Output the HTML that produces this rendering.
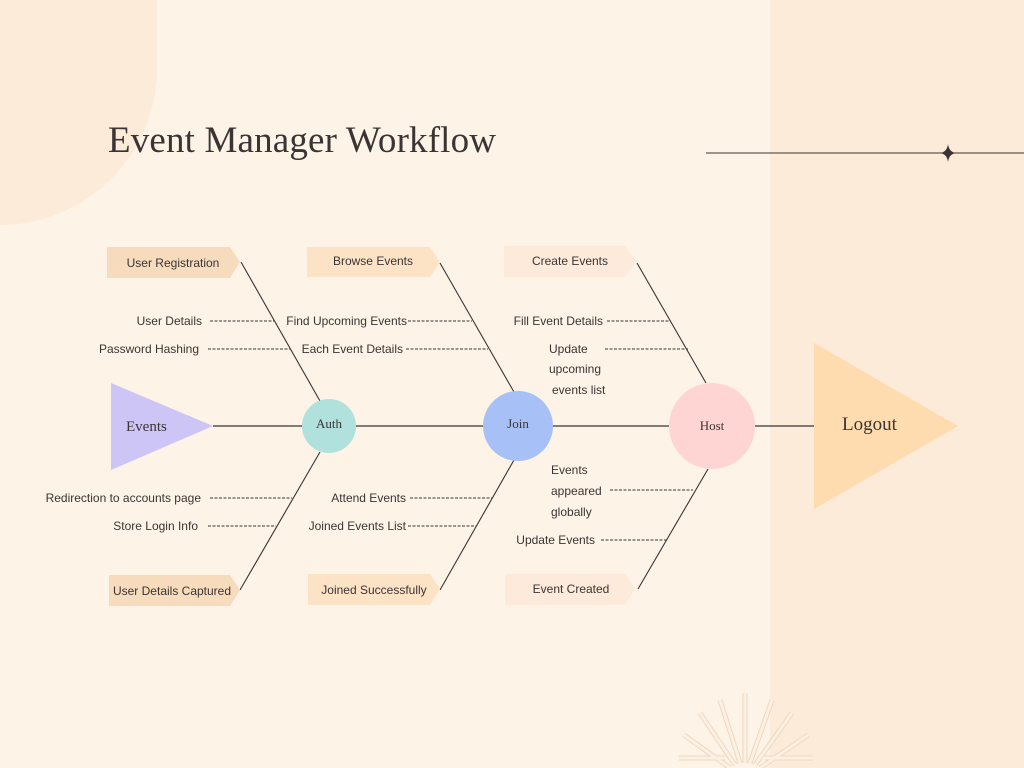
<!DOCTYPE html>
<html><head><meta charset="utf-8"><style>
html,body{margin:0;padding:0;background:#fdf3e6;}
svg{display:block}
text{font-family:"Liberation Sans",sans-serif;fill:#3a3434;}
.s{font-size:12px}
</style></head><body>
<svg width="1024" height="768" viewBox="0 0 1024 768" xmlns="http://www.w3.org/2000/svg">
<defs>
<g id="rays">
<line x1="745" y1="763" x2="745" y2="693"/>
<line x1="740" y1="763" x2="720" y2="700"/>
<line x1="750" y1="763" x2="772" y2="700"/>
<line x1="735" y1="765" x2="700" y2="713"/>
<line x1="755" y1="765" x2="792" y2="713"/>
<line x1="730" y1="768" x2="684" y2="735"/>
<line x1="760" y1="768" x2="808" y2="735"/>
<line x1="725" y1="758" x2="679" y2="758"/>
<line x1="765" y1="758" x2="813" y2="758"/>
</g>
</defs>
<rect width="1024" height="768" fill="#fdf3e6"/>
<rect x="770" y="0" width="254" height="768" fill="#fcebd9"/>
<path d="M0 0 H157 V68 A157 157 0 0 1 0 225 Z" fill="#fcebd9"/>
<text x="108" y="152" style="font-family:'Liberation Serif',serif;font-size:37px" textLength="388" fill="#3a3434">Event Manager Workflow</text>
<line x1="706" y1="153" x2="1024" y2="153" stroke="#3a3434" stroke-width="1"/>
<path d="M948 144 Q949 152 956 153 Q949 154 948 162 Q947 154 940 153 Q947 152 948 144Z" fill="#3a3434"/>
<g stroke="#ecd8c2" stroke-width="5" fill="none"><use href="#rays"/></g>
<g stroke="#fdf0e2" stroke-width="3" fill="none"><use href="#rays"/></g>
<!-- spine -->
<line x1="213" y1="426" x2="815" y2="426" stroke="#3a3434" stroke-width="1.2"/>
<g stroke="#3a3434" stroke-width="1.1">
<line x1="241" y1="262" x2="320" y2="401"/>
<line x1="320" y1="452" x2="240" y2="590"/>
<line x1="440" y1="263" x2="514" y2="392"/>
<line x1="514" y1="460" x2="440" y2="590"/>
<line x1="637" y1="263" x2="706" y2="383"/>
<line x1="708" y1="469" x2="638" y2="589"/>
</g>
<g stroke="#3a3434" stroke-width="1" stroke-dasharray="3,1.5">
<line x1="210" y1="321" x2="274" y2="321"/>
<line x1="208" y1="349" x2="290" y2="349"/>
<line x1="408" y1="321" x2="472" y2="321"/>
<line x1="406" y1="349" x2="488" y2="349"/>
<line x1="607" y1="321" x2="671" y2="321"/>
<line x1="605" y1="349" x2="688" y2="349"/>
<line x1="210" y1="498" x2="292" y2="498"/>
<line x1="208" y1="526" x2="276" y2="526"/>
<line x1="410" y1="498" x2="492" y2="498"/>
<line x1="408" y1="526" x2="476" y2="526"/>
<line x1="610" y1="490" x2="693" y2="490"/>
<line x1="601" y1="540" x2="666" y2="540"/>
</g>
<polygon points="111,383 111,470 213,426" fill="#cdc5f5"/>
<text x="126" y="431" style="font-family:'Liberation Serif',serif;font-size:15px">Events</text>
<circle cx="329" cy="426" r="27" fill="#b0e1dc"/>
<text x="329" y="428" text-anchor="middle" style="font-family:'Liberation Serif',serif;font-size:13px">Auth</text>
<circle cx="518" cy="426" r="35" fill="#a7c1f7"/>
<text x="518" y="428" text-anchor="middle" style="font-family:'Liberation Serif',serif;font-size:13px">Join</text>
<circle cx="712" cy="426" r="43" fill="#ffd5d3"/>
<text x="712" y="430" text-anchor="middle" style="font-family:'Liberation Serif',serif;font-size:13px">Host</text>
<polygon points="814,343 814,509 958,426" fill="#ffdcb0"/>
<text x="842" y="430" style="font-family:'Liberation Serif',serif;font-size:19px">Logout</text>
<polygon points="107,247 230,247 240,262 230,278 107,278" fill="#f6dcbd"/>
<text class="s" x="173" y="267" text-anchor="middle">User Registration</text>
<polygon points="307,247 430,247 440,262 430,277 307,277" fill="#fde3c6"/>
<text class="s" x="373" y="265" text-anchor="middle">Browse Events</text>
<polygon points="504,246 625,246 636,261 625,277 504,277" fill="#fdeadb"/>
<text class="s" x="570" y="265" text-anchor="middle">Create Events</text>
<polygon points="109,575 230,575 240,590 230,606 109,606" fill="#f6dcbd"/>
<text class="s" x="172" y="595" text-anchor="middle">User Details Captured</text>
<polygon points="308,574 430,574 440,589 430,605 308,605" fill="#fde3c6"/>
<text class="s" x="374" y="594" text-anchor="middle">Joined Successfully</text>
<polygon points="505,574 625,574 635,589 625,605 505,605" fill="#fdeadb"/>
<text class="s" x="571" y="593" text-anchor="middle">Event Created</text>
<text class="s" x="202" y="325" text-anchor="end">User Details</text>
<text class="s" x="199" y="353" text-anchor="end">Password Hashing</text>
<text class="s" x="407" y="325" text-anchor="end">Find Upcoming Events</text>
<text class="s" x="403" y="353" text-anchor="end">Each Event Details</text>
<text class="s" x="603" y="325" text-anchor="end">Fill Event Details</text>
<text class="s" x="549" y="353">Update</text>
<text class="s" x="549" y="373">upcoming</text>
<text class="s" x="552" y="394">events list</text>
<text class="s" x="201" y="502" text-anchor="end">Redirection to accounts page</text>
<text class="s" x="198" y="530" text-anchor="end">Store Login Info</text>
<text class="s" x="406" y="502" text-anchor="end">Attend Events</text>
<text class="s" x="406" y="530" text-anchor="end">Joined Events List</text>
<text class="s" x="551" y="474">Events</text>
<text class="s" x="551" y="495">appeared</text>
<text class="s" x="551" y="516">globally</text>
<text class="s" x="595" y="544" text-anchor="end">Update Events</text>
</svg>
</body></html>
